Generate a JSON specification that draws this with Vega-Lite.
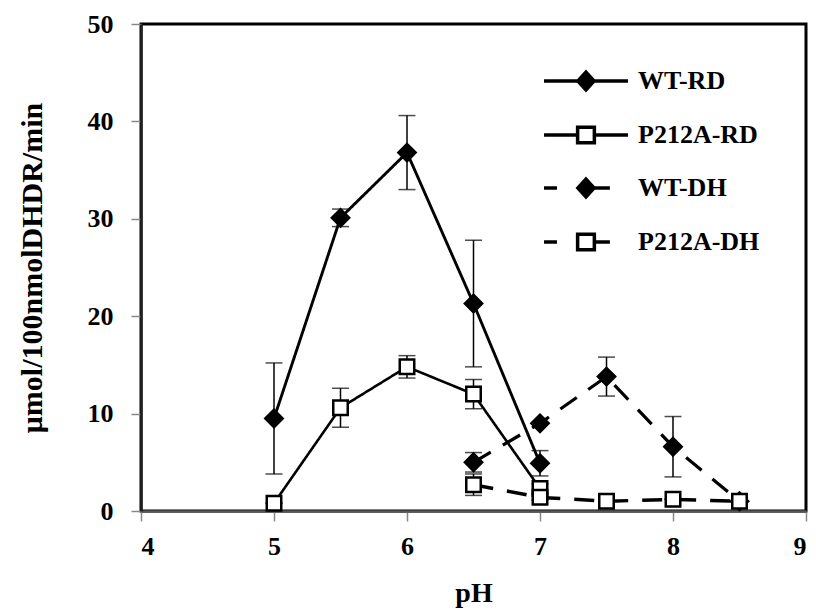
{
  "$schema": "https://vega.github.io/schema/vega-lite/v6.json",
  "width": 665,
  "height": 487,
  "autosize": {"type": "none"},
  "padding": {"left": 141, "top": 24, "right": 10, "bottom": 101},
  "background": "white",
  "config": {
    "view": {"stroke": "black", "strokeWidth": 3},
    "font": "Liberation Serif",
    "axis": {
      "grid": false,
      "labelFont": "Liberation Serif",
      "labelFontSize": 26,
      "labelFontWeight": "bold",
      "labelColor": "black",
      "titleFont": "Liberation Serif",
      "titleFontWeight": "bold",
      "titleColor": "black",
      "tickColor": "#888888",
      "tickWidth": 1.5,
      "tickSize": 10
    },
    "legend": {
      "labelFont": "Liberation Serif",
      "labelFontSize": 26,
      "labelFontWeight": "bold",
      "labelColor": "black"
    }
  },
  "data": {
    "values": [
      {"series": "WT-RD", "pH": 5.0, "rate": 9.5, "err": 5.7},
      {"series": "WT-RD", "pH": 5.5, "rate": 30.1, "err": 0.9},
      {"series": "WT-RD", "pH": 6.0, "rate": 36.8, "err": 3.8},
      {"series": "WT-RD", "pH": 6.5, "rate": 21.3, "err": 6.5},
      {"series": "WT-RD", "pH": 7.0, "rate": 4.9, "err": 1.3},
      {"series": "P212A-RD", "pH": 5.0, "rate": 0.8, "err": 0},
      {"series": "P212A-RD", "pH": 5.5, "rate": 10.6, "err": 2.0},
      {"series": "P212A-RD", "pH": 6.0, "rate": 14.8, "err": 1.15},
      {"series": "P212A-RD", "pH": 6.5, "rate": 12.0, "err": 1.5},
      {"series": "P212A-RD", "pH": 7.0, "rate": 2.3, "err": 0.5},
      {"series": "WT-DH", "pH": 6.5, "rate": 5.0, "err": 1.0},
      {"series": "WT-DH", "pH": 7.0, "rate": 9.0, "err": 0},
      {"series": "WT-DH", "pH": 7.5, "rate": 13.8, "err": 2.0},
      {"series": "WT-DH", "pH": 8.0, "rate": 6.6, "err": 3.1},
      {"series": "WT-DH", "pH": 8.5, "rate": 1.0, "err": 0},
      {"series": "P212A-DH", "pH": 6.5, "rate": 2.7, "err": 1.1},
      {"series": "P212A-DH", "pH": 7.0, "rate": 1.4, "err": 0.3},
      {"series": "P212A-DH", "pH": 7.5, "rate": 1.0, "err": 0},
      {"series": "P212A-DH", "pH": 8.0, "rate": 1.2, "err": 0},
      {"series": "P212A-DH", "pH": 8.5, "rate": 1.0, "err": 0}
    ]
  },
  "encoding": {
    "x": {
      "field": "pH", "type": "quantitative",
      "scale": {"domain": [4, 9], "nice": false, "zero": false},
      "axis": {
        "values": [4, 5, 6, 7, 8, 9],
        "format": "d",
        "title": "pH",
        "titleFontSize": 28,
        "domainColor": "#555555",
        "domainWidth": 2.5,
        "labelPadding": 12,
        "titlePadding": 20
      }
    },
    "y": {
      "field": "rate", "type": "quantitative",
      "scale": {"domain": [0, 50], "nice": false},
      "axis": {
        "values": [0, 10, 20, 30, 40, 50],
        "format": "d",
        "title": "μmol/100nmolDHDR/min",
        "titleFontSize": 30,
        "domainColor": "#222222",
        "domainWidth": 2.5,
        "labelPadding": 18,
        "titlePadding": 40
      }
    }
  },
  "layer": [
    {
      "mark": {"type": "errorbar", "ticks": {"size": 17, "color": "black", "thickness": 1.5}, "rule": {"color": "black", "strokeWidth": 1.5}},
      "encoding": {
        "yError": {"field": "err"},
        "detail": {"field": "series", "type": "nominal"}
      }
    },
    {
      "mark": {"type": "line", "color": "black", "strokeCap": "butt"},
      "encoding": {
        "detail": {"field": "series", "type": "nominal"},
        "strokeDash": {
          "field": "series", "type": "nominal", "legend": null,
          "scale": {"domain": ["WT-DH", "P212A-DH", "WT-RD", "P212A-RD"], "range": [[20, 14], [20, 14], [1, 0], [1, 0]]}
        },
        "strokeWidth": {
          "field": "series", "type": "nominal", "legend": null,
          "scale": {"domain": ["P212A-RD", "WT-RD", "WT-DH", "P212A-DH"], "range": [2.6, 3.5, 5, 5]}
        }
      }
    },
    {
      "mark": {"type": "point", "stroke": "black", "strokeWidth": 2.5, "opacity": 1},
      "encoding": {
        "shape": {
          "condition": {"test": "datum.series === 'WT-RD' || datum.series === 'WT-DH'", "value": "diamond"},
          "value": "square"
        },
        "fill": {
          "condition": {"test": "datum.series === 'WT-RD' || datum.series === 'WT-DH'", "value": "black"},
          "value": "white"
        },
        "size": {
          "condition": {"test": "datum.series === 'WT-RD' || datum.series === 'WT-DH'", "value": 300},
          "value": 210
        }
      }
    },
    {
      "description": "Key: invisible points whose shape, fill and stroke scales drive the legend symbols (line segment plus marker).",
      "mark": {"type": "point", "strokeWidth": 3.5, "opacity": 0},
      "encoding": {
        "shape": {
          "field": "series", "type": "nominal",
          "scale": {
            "domain": ["WT-RD", "P212A-RD", "WT-DH", "P212A-DH"],
            "range": [
              "M-2.11,0H-0.856M-0.256,0H1M-0.556,-0.33L-0.256,0L-0.556,0.33L-0.856,0Z",
              "M-2.11,0H-0.866M-0.246,0H1M-0.866,-0.29H-0.246V0.29H-0.866Z",
              "M-2.11,0H-1.63M-0.256,0H0.33M-0.556,-0.33L-0.256,0L-0.556,0.33L-0.856,0Z",
              "M-2.11,0H-1.63M-0.246,0H0.33M-0.866,-0.29H-0.246V0.29H-0.866Z"
            ]
          },
          "legend": {
            "title": null,
            "orient": "none",
            "legendX": 431,
            "legendY": 28,
            "padding": 0,
            "symbolSize": 2916,
            "symbolOpacity": 1,
            "symbolStrokeWidth": 3.5,
            "symbolStrokeColor": "black",
            "labelOffset": 8,
            "rowPadding": 9
          }
        },
        "fill": {
          "field": "series", "type": "nominal",
          "scale": {"domain": ["WT-RD", "P212A-RD", "WT-DH", "P212A-DH"], "range": ["black", "white", "black", "white"]},
          "legend": {
            "title": null,
            "orient": "none",
            "legendX": 431,
            "legendY": 28,
            "padding": 0,
            "symbolSize": 2916,
            "symbolOpacity": 1,
            "symbolStrokeWidth": 3.5,
            "symbolStrokeColor": "black",
            "labelOffset": 8,
            "rowPadding": 9
          }
        },
        "stroke": {
          "field": "series", "type": "nominal",
          "scale": {"domain": ["WT-RD", "P212A-RD", "WT-DH", "P212A-DH"], "range": ["black", "black", "black", "black"]},
          "legend": {
            "title": null,
            "orient": "none",
            "legendX": 431,
            "legendY": 28,
            "padding": 0,
            "symbolSize": 2916,
            "symbolOpacity": 1,
            "symbolStrokeWidth": 3.5,
            "symbolStrokeColor": "black",
            "labelOffset": 8,
            "rowPadding": 9
          }
        }
      }
    }
  ]
}
